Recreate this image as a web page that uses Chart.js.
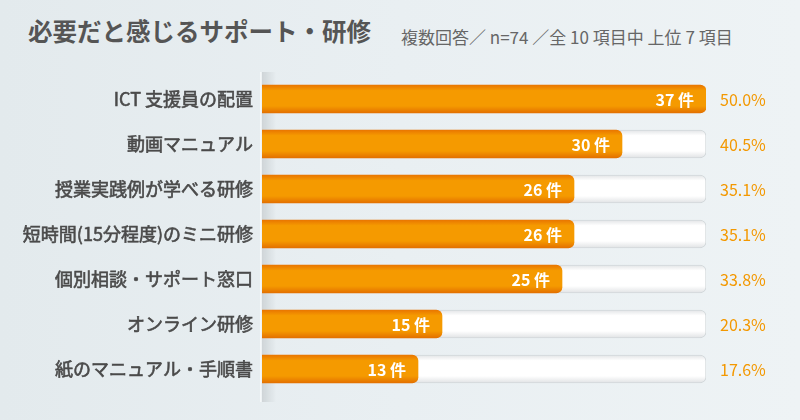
<!DOCTYPE html>
<html>
<head>
<meta charset="utf-8">
<script src="https://cdn.jsdelivr.net/npm/chart.js@4"></script>
<style>
  html, body { margin: 0; padding: 0; }
  body {
    width: 800px; height: 420px; overflow: hidden; position: relative;
    background: linear-gradient(90deg, #e3eaed 0%, #e9eff2 50%, #eef3f5 100%);
    font-family: "Noto Sans CJK JP", "Noto Sans", sans-serif;
  }
  #title { position: absolute; left: 28px; top: 13px; font-size: 24.5px; font-weight: 700; color: #555; }
  #sub { position: absolute; left: 401px; top: 24px; font-size: 17px; color: #666; }
  #wrap { position: absolute; left: 0; top: 0; width: 800px; height: 420px; }
</style>
</head>
<body>
<div id="title">必要だと感じるサポート・研修</div>
<div id="sub">複数回答／ n=74 ／全 10 項目中 上位 7 項目</div>
<div id="wrap"><canvas id="chart"></canvas></div>
<script>
var categories = ["ICT 支援員の配置", "動画マニュアル", "授業実践例が学べる研修", "短時間(15分程度)のミニ研修", "個別相談・サポート窓口", "オンライン研修", "紙のマニュアル・手順書"];
var counts = [37, 30, 26, 26, 25, 15, 13];
var percents = ["50.0%", "40.5%", "35.1%", "35.1%", "33.8%", "20.3%", "17.6%"];
var trackValues = [37, 37, 37, 37, 37, 37, 37];

var FONT = '"Noto Sans CJK JP", "Noto Sans", sans-serif';

function barGradient(ctx, colors) {
  var chart = ctx.chart;
  var y = chart.scales.y;
  if (!y || !chart.chartArea) return colors[1];
  var c = y.getPixelForValue(ctx.dataIndex);
  var g = chart.ctx.createLinearGradient(0, c - 14, 0, c + 14);
  g.addColorStop(0, colors[0]);
  g.addColorStop(0.2, colors[1]);
  g.addColorStop(0.75, colors[1]);
  g.addColorStop(1, colors[2]);
  return g;
}

var panelEdge = {
  id: 'panelEdge',
  beforeDatasetsDraw: function (chart) {
    var ctx = chart.ctx;
    var x = chart.chartArea.left;
    ctx.save();
    var g = ctx.createLinearGradient(x, 0, x + 14, 0);
    g.addColorStop(0, 'rgba(0,0,0,0.10)');
    g.addColorStop(1, 'rgba(0,0,0,0)');
    ctx.fillStyle = g;
    ctx.fillRect(x, 72, 14, 330);
    ctx.fillStyle = 'rgba(255,255,255,0.6)';
    ctx.fillRect(x - 2, 72, 1.5, 330);
    ctx.restore();
  }
};

var valueLabels = {
  id: 'valueLabels',
  afterDatasetsDraw: function (chart) {
    var ctx = chart.ctx;
    var meta = chart.getDatasetMeta(0);
    ctx.save();
    ctx.textBaseline = 'middle';
    meta.data.forEach(function (bar, i) {
      ctx.fillStyle = '#ffffff';
      ctx.textAlign = 'right';
      ctx.font = 'bold 16px ' + FONT;
      ctx.fillText(counts[i] + ' 件', bar.x - 12, bar.y + 1);
      ctx.fillStyle = '#f39800';
      ctx.textAlign = 'left';
      ctx.font = '16px ' + FONT;
      ctx.fillText(percents[i], chart.chartArea.right + 14, bar.y + 1);
    });
    ctx.restore();
  }
};

new Chart('chart', {
  type: 'bar',
  data: {
    labels: categories,
    datasets: [{
      label: '件数',
      data: counts,
      grouped: false,
      order: 0,
      barThickness: 28,
      backgroundColor: function (ctx) { return barGradient(ctx, ['#e97600', '#f59a00', '#e37000']); },
      borderRadius: { topRight: 6, bottomRight: 6 },
      borderSkipped: 'start'
    }, {
      label: 'track',
      data: trackValues,
      grouped: false,
      order: 1,
      barThickness: 28,
      backgroundColor: function (ctx) { return barGradient(ctx, ['#e2e4e6', '#ffffff', '#e0e2e4']); },
      borderColor: 'rgba(200,205,208,0.7)',
      borderWidth: { top: 1, right: 1, bottom: 1, left: 0 },
      borderRadius: { topRight: 6, bottomRight: 6 },
      borderSkipped: 'start'
    }]
  },
  options: {
    indexAxis: 'y',
    responsive: true,
    maintainAspectRatio: false,
    animation: false,
    layout: { padding: { top: 76.5, bottom: 28.5, left: 0, right: 94 } },
    plugins: {
      legend: { display: false },
      tooltip: { enabled: false }
    },
    scales: {
      x: { display: false, min: 0, max: 37 },
      y: {
        grid: { display: false, drawTicks: false },
        border: { display: false },
        ticks: {
          color: '#4a4a4a', padding: 9,
          textStrokeColor: '#4a4a4a', textStrokeWidth: 0.6,
          font: { family: FONT, size: 18 }
        },
        afterFit: function (scale) { scale.width = 262; }
      }
    }
  },
  plugins: [panelEdge, valueLabels]
});
</script>
</body>
</html>
